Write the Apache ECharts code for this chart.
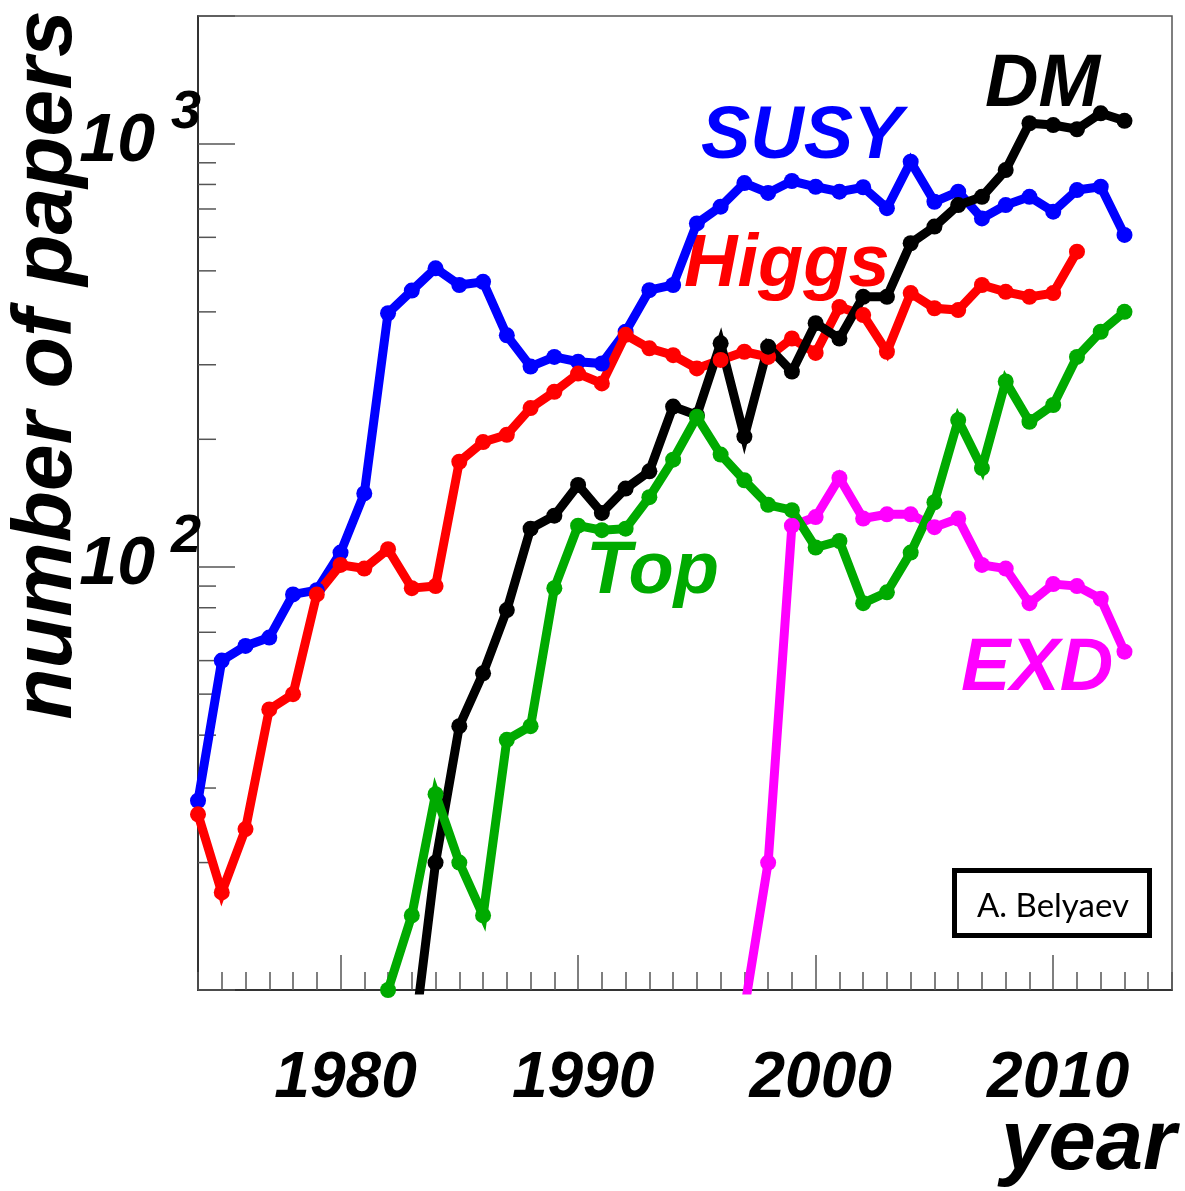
<!DOCTYPE html>
<html><head><meta charset="utf-8">
<script src="https://cdn.jsdelivr.net/npm/echarts@6/dist/echarts.min.js"></script>
<style>html,body{margin:0;padding:0;background:#fff}#c{width:1185px;height:1191px}</style>
</head><body><div id="c"></div>
<script>
// ---- data ----
const years = [1974,1975,1976,1977,1978,1979,1980,1981,1982,1983,1984,1985,1986,1987,1988,1989,1990,1991,1992,1993,
               1994,1995,1996,1997,1998,1999,2000,2001,2002,2003,2004,2005,2006,2007,2008,2009,2010,2011,2012,2013];
const susy  = [28,60,65,68,86,88,108,149,397,449,507,463,471,352,297,313,305,302,359,450,
               463,647,709,806,764,815,790,769,788,703,905,728,769,665,715,748,690,776,790,608];
const higgs = [26,17,24,46,50,86,101,99,110,89,90,177,197,205,237,259,286,271,353,328,
               316,294,308,322,313,346,320,411,393,322,443,408,404,463,446,434,443,555,null,null];
const dm    = [null,null,null,null,null,null,null,null,null,7,20,42,56,79,123,132,156,134,153,168,
               239,228,337,203,331,289,376,346,434,434,581,636,715,748,865,1116,1105,1080,1178,1131];
const top_  = [null,null,null,null,null,null,null,null,10,15,29,20,15,39,42,89,125,122,123,146,
               179,226,184,160,140,136,111,115,82,87,108,142,222,171,274,220,241,313,359,400];
const exd   = [null,null,null,null,null,null,null,null,null,null,null,null,null,null,null,null,null,null,null,null,
               null,null,null,9,20,125,131,162,130,133,133,124,130,101,99,82,91,90,84,63];
const seriesNames = ['SUSY','Higgs','DM','EXD','Top'];
const xMin = 1974, xMax = 2015, yMin = 10, yMax = 2000;
const xLabelYears = [1980,1990,2000,2010];
const yMinorTicks = [20,30,40,50,60,70,80,90,200,300,400,500,600,700,800,900];

const colors = {SUSY:'#0000ff', Higgs:'#ff0000', DM:'#000000', Top:'#00aa00', EXD:'#ff00ff'};
const values = {SUSY:susy, Higgs:higgs, DM:dm, Top:top_, EXD:exd};

const FONT = '"Liberation Sans", Arial, Helvetica, sans-serif';
const tickStyle = {color:'#555', width:1.5};

function lineSeries(name){
  const vals = values[name];
  return {
    type:'line', name, xAxisIndex:0, yAxisIndex:0,
    data: years.map((y,i)=>[y, vals[i]]),
    connectNulls:false, showSymbol:true, showAllSymbol:true,
    symbol:'circle', symbolSize:16,
    itemStyle:{color:colors[name]},
    lineStyle:{color:colors[name], width:9, join:'miter', miterLimit:10},
    clip:true, silent:true, animation:false
  };
}

const series = seriesNames.map(lineSeries);
series.push({
  type:'custom', xAxisIndex:0, yAxisIndex:0, silent:true, clip:false,
  data: yMinorTicks.map(v=>[xMin, v]),
  renderItem: function(params, api){
    const p = api.coord([api.value(0), api.value(1)]);
    return {type:'line', shape:{x1:p[0], y1:p[1], x2:p[0]+18, y2:p[1]}, style:{stroke:'#555', lineWidth:1.5}};
  }
});

function label(text, x, y, color){
  return {type:'text', x, y, style:{text, fill:color, font:'italic bold 74px '+FONT, textAlign:'left', textVerticalAlign:'middle'}};
}

const option = {
  backgroundColor:'#fff',
  animation:false,
  grid:{left:198, right:13, top:16, bottom:201, show:true, borderColor:'#555', borderWidth:1.5, containLabel:false},
  xAxis:[
    {type:'value', min:xMin, max:xMax, position:'bottom',
     axisLine:{show:true, lineStyle:{color:'#333', width:2}},
     axisTick:{show:true, inside:true, length:35, customValues:xLabelYears, lineStyle:tickStyle},
     axisLabel:{show:true, customValues:xLabelYears, formatter:function(v){return String(Math.round(v));},
       margin:57, padding:[0,0,0,10], fontFamily:FONT, fontStyle:'italic', fontWeight:'bold', fontSize:64, color:'#000'},
     splitLine:{show:false}},
    {type:'value', min:xMin, max:xMax, interval:1, position:'bottom',
     axisLine:{show:false},
     axisTick:{show:true, inside:true, length:18, lineStyle:tickStyle},
     axisLabel:{show:false}, splitLine:{show:false}}
  ],
  yAxis:[
    {type:'log', logBase:10, min:yMin, max:yMax,
     axisLine:{show:true, lineStyle:{color:'#333', width:2}},
     axisTick:{show:true, inside:true, length:37, lineStyle:tickStyle},
     splitLine:{show:false},
     axisLabel:{show:true, margin:-3, padding:[0,0,24,0],
       formatter:function(v){
         const l = Math.log10(v), e = Math.round(l);
         if (Math.abs(l-e) > 1e-6 || (e !== 2 && e !== 3)) return '';
         return '{b|10}{e|' + e + '}';
       },
       rich:{
         b:{fontFamily:FONT, fontStyle:'italic', fontWeight:'bold', fontSize:68, lineHeight:90, verticalAlign:'bottom', color:'#000'},
         e:{fontFamily:FONT, fontStyle:'italic', fontWeight:'bold', fontSize:54, lineHeight:38, verticalAlign:'top', color:'#000', padding:[0,0,0,16]}
       }
     }}
  ],
  series,
  graphic:[
    label('SUSY', 701, 138, colors.SUSY),
    label('DM', 985, 86, colors.DM),
    label('Higgs', 684, 266, colors.Higgs),
    label('Top', 586, 573, colors.Top),
    label('EXD', 961, 670, colors.EXD),
    {type:'rect', shape:{x:954.5, y:870.5, width:195, height:65}, style:{fill:'#fff', stroke:'#000', lineWidth:5}, z:10},
    {type:'text', x:1053, y:906, z:11, style:{text:'A. Belyaev', fill:'#000', font:'33px Lato, "Open Sans", sans-serif', textAlign:'center', textVerticalAlign:'middle'}},
    {type:'text', x:48, y:365, rotation:Math.PI/2, style:{text:'number of papers', fill:'#000', font:'italic bold 84px '+FONT, textAlign:'center', textVerticalAlign:'middle'}},
    {type:'text', x:1176, y:1146, style:{text:'year', fill:'#000', font:'italic bold 85px '+FONT, textAlign:'right', textVerticalAlign:'middle'}}
  ]
};

const chart = echarts.init(document.getElementById('c'), null, {renderer:'canvas'});
chart.setOption(option);
</script>
</body></html>
